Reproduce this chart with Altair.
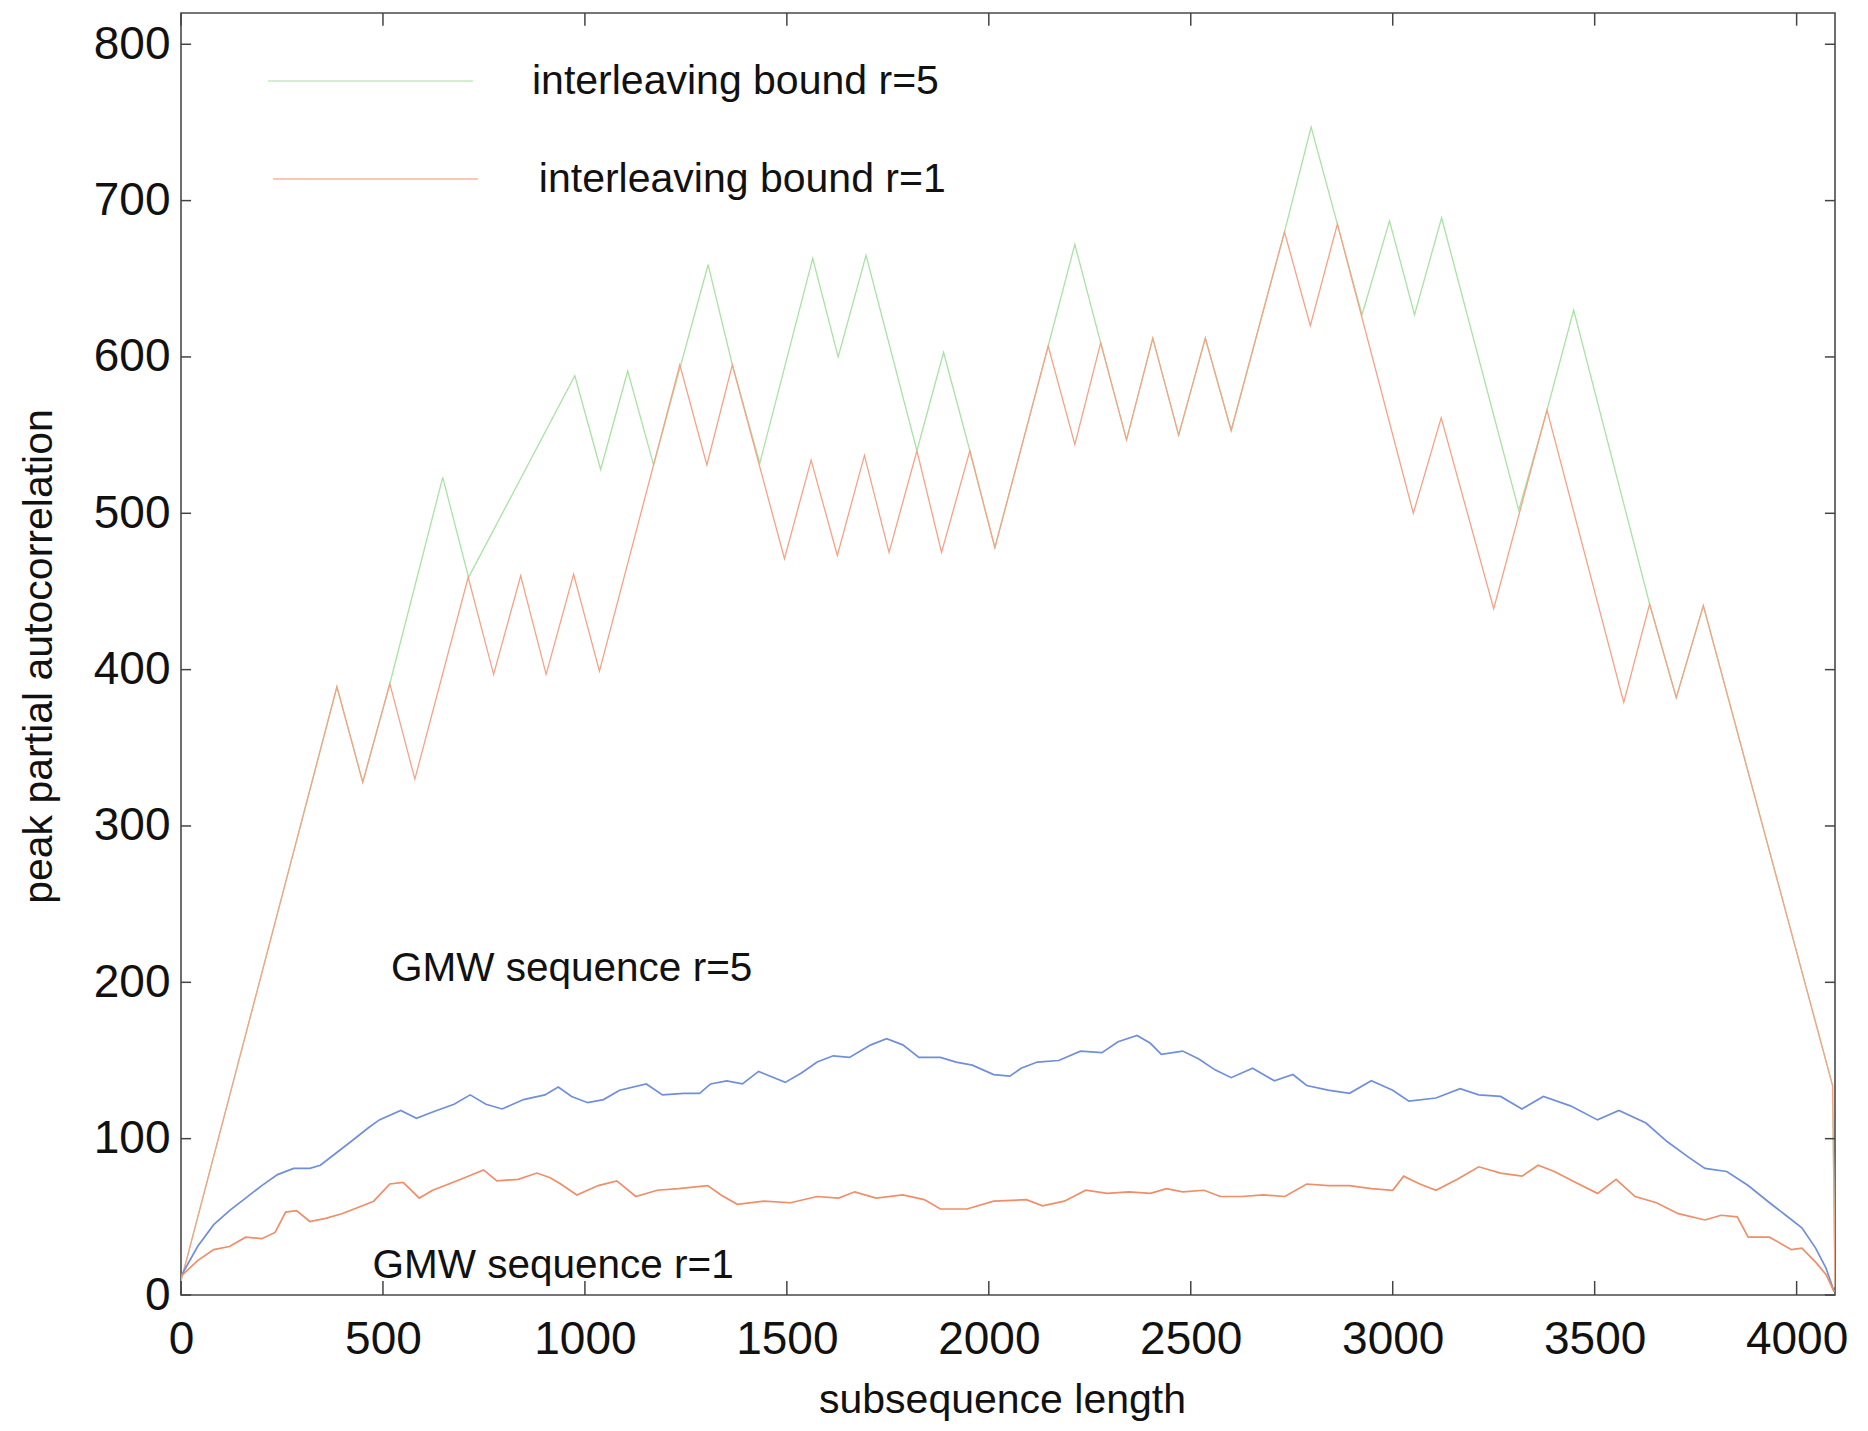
import altair as alt
import pandas as pd

# ---------------- data ----------------
bound1_x = [0, 386, 450, 517, 579, 711, 774, 841, 904, 972,
            1036, 1235, 1302, 1365, 1494, 1560, 1625, 1692, 1753, 1822,
            1883, 1953, 2015, 2147, 2213, 2277, 2341, 2406, 2470, 2536,
            2600, 2732, 2796, 2863, 3051, 3120, 3250, 3382, 3572, 3636,
            3702, 3769, 4089, 4095]
bound1_y = [9, 389, 328, 391, 330, 459, 397, 460, 397, 461,
            399, 595, 531, 595, 471, 534, 473, 537, 475, 540,
            475, 540, 478, 607, 544, 609, 547, 612, 550, 612,
            553, 680, 620, 685, 500, 561, 439, 566, 379, 442,
            382, 441, 134, 5]

bound5_x = [0, 386, 450, 517, 648, 712, 975, 1039, 1106, 1170,
            1305, 1365, 1433, 1564, 1627, 1696, 1822, 1888, 1953, 2015,
            2147, 2213, 2277, 2341, 2406, 2470, 2536, 2600, 2732, 2798,
            2863, 2924, 2992, 3054, 3121, 3312, 3382, 3448, 3636, 3702,
            3769, 4089, 4095]
bound5_y = [9, 389, 328, 391, 523, 459, 588, 528, 591, 531,
            659, 595, 532, 663, 600, 665, 540, 603, 540, 478,
            607, 672, 609, 547, 612, 550, 612, 553, 680, 747,
            685, 627, 687, 627, 689, 502, 566, 630, 442, 382,
            441, 134, 5]

gmw5_x = [0, 41, 81, 120, 160, 200, 239, 279, 319, 345,
          385, 425, 464, 491, 544, 583, 623, 676, 716, 755,
          795, 848, 901, 934, 967, 1007, 1046, 1086, 1152, 1192,
          1245, 1284, 1311, 1351, 1390, 1430, 1496, 1536, 1575, 1615,
          1655, 1708, 1747, 1787, 1827, 1880, 1919, 1959, 2012, 2052,
          2080, 2120, 2173, 2227, 2280, 2320, 2367, 2400, 2427, 2480,
          2520, 2560, 2600, 2653, 2707, 2753, 2787, 2840, 2893, 2947,
          3000, 3040, 3107, 3167, 3213, 3267, 3320, 3373, 3440, 3507,
          3560, 3627, 3680, 3733, 3773, 3827, 3880, 3933, 3973, 4013,
          4047, 4073, 4093]
gmw5_y = [12, 31, 45, 54, 62, 70, 77, 81, 81, 83,
          91, 99, 107, 112, 118, 113, 117, 122, 128, 122,
          119, 125, 128, 133, 127, 123, 125, 131, 135, 128,
          129, 129, 135, 137, 135, 143, 136, 142, 149, 153,
          152, 160, 164, 160, 152, 152, 149, 147, 141, 140,
          145, 149, 150, 156, 155, 162, 166, 161, 154, 156,
          151, 144, 139, 145, 137, 141, 134, 131, 129, 137,
          131, 124, 126, 132, 128, 127, 119, 127, 121, 112,
          118, 110, 98, 88, 81, 79, 70, 59, 51, 43,
          30, 17, 2]

gmw1_x = [0, 41, 81, 120, 160, 200, 233, 259, 286, 319,
          358, 398, 438, 477, 517, 550, 590, 623, 663, 702,
          749, 782, 835, 881, 914, 940, 980, 1033, 1079, 1126,
          1179, 1232, 1304, 1337, 1377, 1443, 1509, 1575, 1628, 1668,
          1721, 1787, 1840, 1880, 1946, 2012, 2093, 2133, 2187, 2240,
          2293, 2347, 2400, 2440, 2480, 2533, 2573, 2627, 2680, 2733,
          2787, 2840, 2893, 2947, 3000, 3027, 3067, 3107, 3160, 3213,
          3267, 3320, 3360, 3400, 3453, 3507, 3553, 3600, 3653, 3707,
          3773, 3813, 3853, 3880, 3933, 3987, 4013, 4047, 4073, 4093]
gmw1_y = [12, 22, 29, 31, 37, 36, 40, 53, 54, 47,
          49, 52, 56, 60, 71, 72, 62, 67, 71, 75,
          80, 73, 74, 78, 75, 71, 64, 70, 73, 63,
          67, 68, 70, 64, 58, 60, 59, 63, 62, 66,
          62, 64, 61, 55, 55, 60, 61, 57, 60, 67,
          65, 66, 65, 68, 66, 67, 63, 63, 64, 63,
          71, 70, 70, 68, 67, 76, 71, 67, 74, 82,
          78, 76, 83, 79, 72, 65, 74, 63, 59, 52,
          48, 51, 50, 37, 37, 29, 30, 21, 13, 2]

series_names = ["bound5", "bound1", "gmw5", "gmw1"]
series_colors = ["#a9e3a3", "#f5a386", "#6f8fdc", "#f08e68"]

x_ticks = [0, 500, 1000, 1500, 2000, 2500, 3000, 3500, 4000]
y_ticks = [0, 100, 200, 300, 400, 500, 600, 700, 800]

legend_labels = ["interleaving bound r=5", "interleaving bound r=1"]
legend_x1 = [215, 228]
legend_x2 = [723, 735]
legend_y = [776.5, 713.8]
legend_text_x = [869, 886]
legend_text_y = [768, 705.5]
legend_colors = ["#c3ebbd", "#f6b59c"]

gmw_labels = ["GMW sequence r=5", "GMW sequence r=1"]
gmw_label_x = [520, 474]
gmw_label_y = [201, 11]

X_MAX = 4095
Y_MAX = 820

# ---------------- build tables ----------------
rows = []
for name, xs_, ys_ in [("bound5", bound5_x, bound5_y), ("bound1", bound1_x, bound1_y),
                       ("gmw5", gmw5_x, gmw5_y), ("gmw1", gmw1_x, gmw1_y)]:
    for i, (a, b) in enumerate(zip(xs_, ys_)):
        rows.append({"x": a, "y": b, "series": name, "order": i})
df = pd.DataFrame(rows)

FONT = "Liberation Sans"
xs = alt.Scale(domain=[0, X_MAX], nice=False, zero=False)
ys = alt.Scale(domain=[0, Y_MAX], nice=False, zero=False)

x_axis = alt.Axis(title="subsequence length", values=x_ticks, format="d", grid=False,
                  ticks=False, domain=False, labelFont=FONT, labelFontSize=46,
                  labelPadding=22, labelColor="#111111", labelFlush=False,
                  labelOverlap=False,
                  titleFont=FONT, titleFontSize=41, titleFontWeight="normal",
                  titleColor="#111111", titleX=821, titleY=117,
                  titleBaseline="alphabetic", titleAlign="center")
y_axis = alt.Axis(title="peak partial autocorrelation", values=y_ticks, format="d",
                  grid=False, ticks=False, domain=False, labelFont=FONT,
                  labelFontSize=46, labelPadding=11, labelColor="#111111",
                  labelFlush=False, labelOverlap=False, labelBaseline="middle",
                  titleFont=FONT, titleFontSize=41, titleFontWeight="normal",
                  titleColor="#111111", titleAngle=270, titleX=-130, titleY=643,
                  titleBaseline="alphabetic", titleAlign="center")

X = lambda f="x": alt.X(f"{f}:Q", scale=xs, axis=x_axis)
Y = lambda f="y": alt.Y(f"{f}:Q", scale=ys, axis=y_axis)

color_scale = alt.Scale(domain=series_names, range=series_colors)

bounds = alt.Chart(df[df.series.isin(["bound5", "bound1"])]).mark_line(
    strokeWidth=1.3, clip=True
).encode(
    x=X(), y=Y(),
    color=alt.Color("series:N", scale=color_scale, legend=None),
    order="order:Q",
)

gmw = alt.Chart(df[df.series.isin(["gmw5", "gmw1"])]).mark_line(
    strokeWidth=1.7, clip=True
).encode(
    x=X(), y=Y(),
    color=alt.Color("series:N", scale=color_scale, legend=None),
    order="order:Q",
)

# legend samples
leg_df = pd.DataFrame({"x": legend_x1, "x2": legend_x2, "y": legend_y,
                       "label": legend_labels, "c": legend_colors,
                       "tx": legend_text_x, "ty": legend_text_y})
leg_lines = alt.Chart(leg_df).mark_rule(strokeWidth=1.5).encode(
    x=X(), x2="x2:Q", y=Y(), color=alt.Color("c:N", scale=None, legend=None)
)
leg_text = alt.Chart(leg_df).mark_text(
    align="left", baseline="alphabetic", font=FONT, fontSize=41, color="#111111"
).encode(x=X("tx"), y=Y("ty"), text="label:N")

gmw_df = pd.DataFrame({"tx": gmw_label_x, "ty": gmw_label_y, "label": gmw_labels})
gmw_text = alt.Chart(gmw_df).mark_text(
    align="left", baseline="alphabetic", font=FONT, fontSize=40.5, color="#111111"
).encode(x=X("tx"), y=Y("ty"), text="label:N")

# inward tick marks (box style)
xt_len = 9
yt_len = 25
xtick_df = pd.DataFrame({"x": x_ticks, "y0": [0] * len(x_ticks), "y1": [xt_len] * len(x_ticks),
                         "t0": [Y_MAX] * len(x_ticks), "t1": [Y_MAX - xt_len * 0.9] * len(x_ticks)})
ytick_df = pd.DataFrame({"y": y_ticks, "x0": [0] * len(y_ticks), "x1": [yt_len] * len(y_ticks),
                         "r0": [X_MAX] * len(y_ticks), "r1": [X_MAX - yt_len] * len(y_ticks)})
tick_color = "#444444"
xb = alt.Chart(xtick_df).mark_rule(color=tick_color, strokeWidth=1.5).encode(
    x=X(), y=Y("y0"), y2="y1:Q")
xtp = alt.Chart(xtick_df).mark_rule(color=tick_color, strokeWidth=1.5).encode(
    x=X(), y=Y("t0"), y2="t1:Q")
yl = alt.Chart(ytick_df).mark_rule(color=tick_color, strokeWidth=1.5).encode(
    y=Y(), x=X("x0"), x2="x1:Q")
yr = alt.Chart(ytick_df).mark_rule(color=tick_color, strokeWidth=1.5).encode(
    y=Y(), x=X("r0"), x2="r1:Q")

chart = alt.layer(
    bounds, gmw, leg_lines, leg_text, gmw_text, xb, xtp, yl, yr
).properties(
    width=1654, height=1282,
    padding={"left": 173, "top": 5, "right": 15, "bottom": 128},
    autosize=alt.AutoSizeParams(type="none"),
    background="#ffffff",
).configure_view(
    stroke="#4a4a4a", strokeWidth=1.6
)

chart.save("out.html", embed_options={"renderer": "svg", "actions": False})
